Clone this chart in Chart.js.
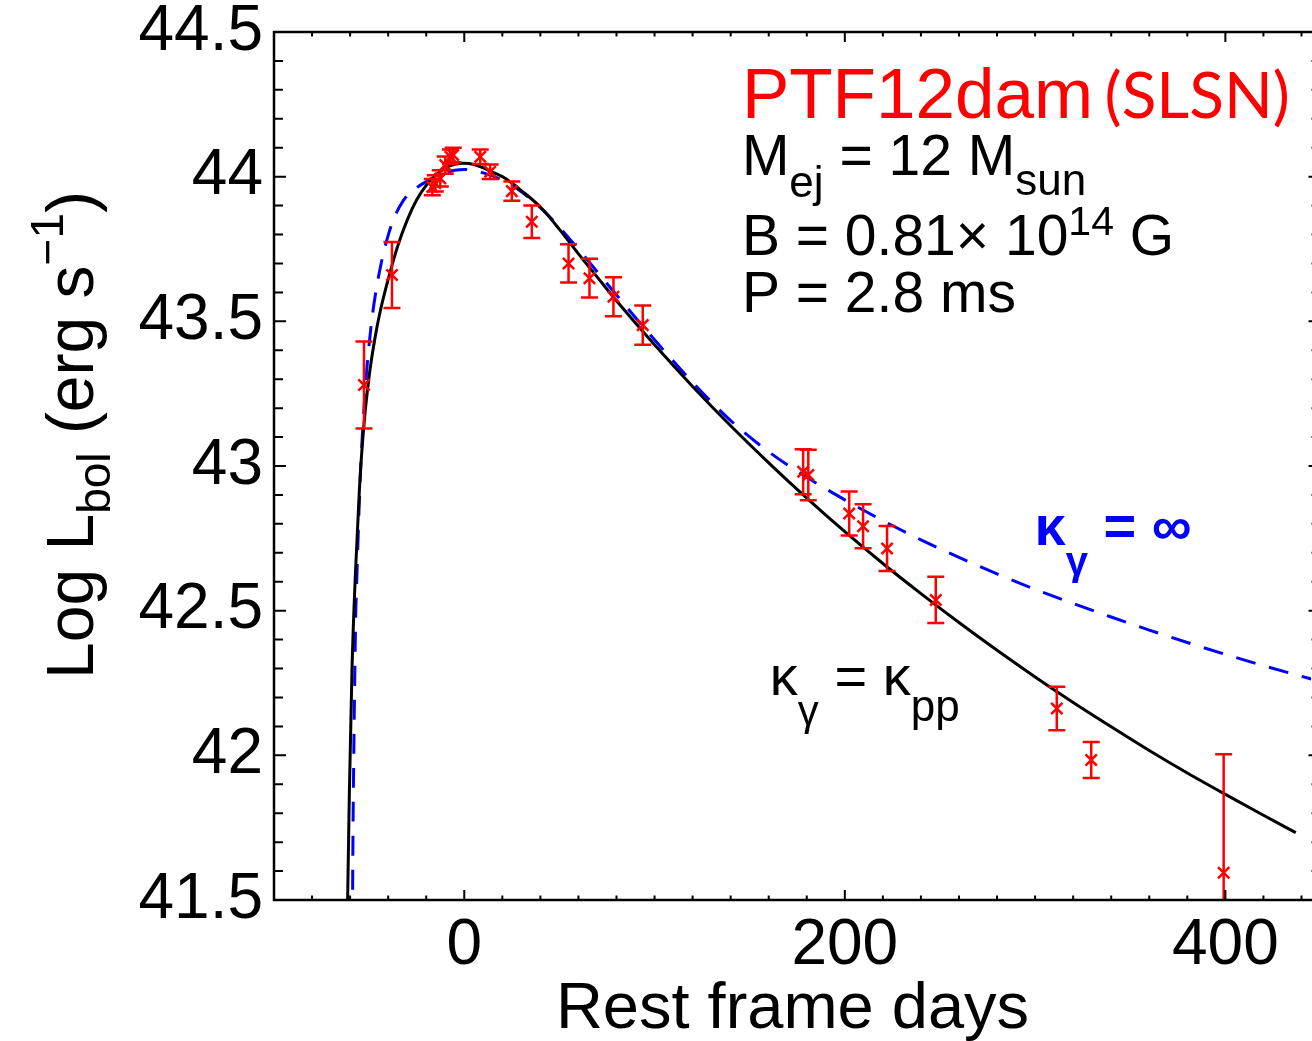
<!DOCTYPE html>
<html>
<head>
<meta charset="utf-8">
<script src="https://cdn.jsdelivr.net/npm/chart.js@4.4.1/dist/chart.umd.min.js"></script>
<style>
html, body { margin: 0; padding: 0; background: #fff; }
canvas { display: block; }
</style>
</head>
<body>
<canvas id="lightcurve" width="1312" height="1041"></canvas>
<script>
// PTF12dam bolometric light curve
const days = [-52.7, -38, -16.8, -15.2, -12.6, -10, -7.3, -5.8, 8.4, 13.6, 25, 35.5, 54.8, 65.8, 78.4, 93.8,
    178.1, 180.8, 202.3, 209.6, 222.2, 247.8, 311.4, 329.5, 399.1];
const log_lbol = [43.28, 43.66, 43.964, 43.977, 43.994, 44.04, 44.069, 44.075, 44.069, 44.017, 43.95, 43.844, 43.70, 43.649, 43.585, 43.487,
    42.98, 42.969, 42.836, 42.792, 42.715, 42.537, 42.162, 41.984, 41.594];
const log_lbol_err = [0.15, 0.114, 0.028, 0.028, 0.028, 0.03, 0.025, 0.025, 0.025, 0.025, 0.033, 0.056, 0.066, 0.067, 0.067, 0.068,
    0.078, 0.087, 0.076, 0.076, 0.078, 0.08, 0.075, 0.062, 0.41];

// magnetar model, kappa_gamma = kappa_pp (black solid)
const model_days = [-61.8, -61.3, -60.4, -59.0, -57.2, -55.1, -52.9, -50, -47, -44, -40, -35, -30, -25, -20, -15, -10, -5, 0,
    5, 10, 15, 20, 25, 30, 40, 50, 60, 70, 80, 100, 120, 140, 160, 180, 200, 220, 240, 260, 280, 300, 320, 340, 360, 380, 400, 420, 437];
const model_lbol = [41.3, 41.5, 41.87, 42.30, 42.63, 42.92, 43.13, 43.31, 43.44, 43.54, 43.645, 43.76, 43.85, 43.92, 43.97, 44.005, 44.03, 44.043, 44.046,
    44.042, 44.03, 44.015, 44.0, 43.978, 43.952, 43.895, 43.818, 43.733, 43.652, 43.571, 43.419, 43.275, 43.139, 43.011, 42.889, 42.773, 42.663,
    42.559, 42.459, 42.363, 42.271, 42.183, 42.099, 42.017, 41.939, 41.865, 41.793, 41.733];

// full trapping, kappa_gamma = infinity (blue dashed)
const trap_days = [-58.8, -58.7, -58.1, -57.5, -57.0, -56.5, -55.5, -54.5, -53.1, -51.7, -50.3, -48.6, -46.3, -43.3, -40.7, -37.3, -32, -28.3, -25, -22,
    -17.8, -13, -9, -5, 0, 10, 20, 30, 40, 50, 60, 80, 100, 120, 140, 160, 180, 200, 220, 240, 260, 280, 300, 320, 340, 360, 380, 400, 420, 450];
const trap_lbol = [41.3, 41.5, 41.984, 42.295, 42.502, 42.606, 42.813, 42.986, 43.159, 43.297, 43.401, 43.505, 43.609, 43.712, 43.781, 43.85, 43.918, 43.945, 43.962, 43.975,
    43.99, 44.004, 44.015, 44.022, 44.025, 44.013, 43.988, 43.948, 43.893, 43.825, 43.749, 43.591, 43.436, 43.289, 43.157, 43.049, 42.961, 42.883, 42.811,
    42.745, 42.684, 42.627, 42.574, 42.525, 42.478, 42.433, 42.39, 42.349, 42.31, 42.255];

const x_tick_values = [0, 200, 400];
const x_box_end = 450;   // the plot box ends at 450 days, just outside the picture

const FONT = "'Liberation Sans', Arial, Helvetica, sans-serif";

function rich_text(ctx, x, y, parts, color, align) {
    // parts: [text, size, dy, weight]
    let w = 0;
    parts.forEach(p => {
        ctx.font = (p[3] || 'normal') + ' ' + p[1] + 'px ' + FONT;
        w += ctx.measureText(p[0]).width;
    });
    let cx = align === 'center' ? x - w / 2 : x;
    ctx.fillStyle = color;
    ctx.textAlign = 'left';
    ctx.textBaseline = 'alphabetic';
    parts.forEach(p => {
        ctx.font = (p[3] || 'normal') + ' ' + p[1] + 'px ' + FONT;
        ctx.fillText(p[0], cx, y + p[2]);
        cx += ctx.measureText(p[0]).width;
    });
}

// let the plot area run to the right edge of the canvas
const stretch_area = {
    id: 'stretch_area',
    afterLayout(chart) {
        const xs = chart.scales.x, a = chart.chartArea;
        const right = chart.width - 1;
        a.right = right;
        a.width = right - a.left;
        xs.right = right;
        xs.width = right - xs.left;
        xs.configure();
    }
};

const error_bars = {
    id: 'error_bars',
    afterDatasetsDraw(chart) {
        const ctx = chart.ctx, xs = chart.scales.x, ys = chart.scales.y, a = chart.chartArea;
        ctx.save();
        ctx.beginPath();
        ctx.rect(a.left, a.top, a.right - a.left, a.bottom - a.top);
        ctx.clip();
        ctx.strokeStyle = '#ff0000';
        ctx.lineWidth = 2.5;
        days.forEach((d, i) => {
            const px = xs.getPixelForValue(d);
            const top = ys.getPixelForValue(log_lbol[i] + log_lbol_err[i]);
            const bot = ys.getPixelForValue(log_lbol[i] - log_lbol_err[i]);
            ctx.beginPath();
            ctx.moveTo(px, top); ctx.lineTo(px, bot);
            ctx.moveTo(px - 8.5, top); ctx.lineTo(px + 8.5, top);
            ctx.moveTo(px - 8.5, bot); ctx.lineTo(px + 8.5, bot);
            ctx.stroke();
        });
        ctx.restore();
    }
};

// box around the plot with inward ticks, like IDL
const frame_ticks = {
    id: 'frame_ticks',
    afterDraw(chart) {
        const ctx = chart.ctx, xs = chart.scales.x, ys = chart.scales.y, a = chart.chartArea;
        const right = xs.getPixelForValue(x_box_end);
        ctx.save();
        ctx.strokeStyle = '#000';
        ctx.lineWidth = 2.5;
        ctx.strokeRect(a.left, a.top, right - a.left, a.bottom - a.top);
        ctx.lineWidth = 2;
        ctx.beginPath();
        for (let v = -80; v < x_box_end; v += 20) {
            const px = xs.getPixelForValue(v);
            const len = v % 200 === 0 ? 10 : 4.5;
            ctx.moveTo(px, a.bottom); ctx.lineTo(px, a.bottom - len);
            ctx.moveTo(px, a.top); ctx.lineTo(px, a.top + len);
        }
        for (let k = 416; k <= 444; k++) {
            const py = ys.getPixelForValue(k / 10);
            const len = k % 5 === 0 ? 12 : 9;
            ctx.moveTo(a.left, py); ctx.lineTo(a.left + len, py);
            ctx.moveTo(right, py); ctx.lineTo(right - len, py);
        }
        ctx.stroke();
        ctx.restore();
    }
};

const labels = {
    id: 'labels',
    afterDraw(chart) {
        const ctx = chart.ctx, xs = chart.scales.x, ys = chart.scales.y;
        ctx.save();

        // y axis title
        ctx.save();
        ctx.translate(93, 435);
        ctx.rotate(-Math.PI / 2);
        rich_text(ctx, 0, 0, [['Log L', 66, 0], ['bol', 46, 17], [' (erg s', 66, 0], ['\u22121', 46, -30], [')', 66, 0]], '#000', 'center');
        ctx.restore();

        const X = v => xs.getPixelForValue(v);
        const Y = v => ys.getPixelForValue(v);

        ctx.font = '71px ' + FONT;
        ctx.fillStyle = '#ff0000';
        ctx.textBaseline = 'alphabetic';
        ctx.fillText('PTF12dam', X(145.9), Y(44.203));
        ctx.font = "64px Lato, 'Open Sans', sans-serif";
        ctx.fillText('(SLSN)', X(336.5), Y(44.203));

        rich_text(ctx, X(145.9), Y(44.006), [['M', 57, 0], ['ej', 44, 22], [' = 12 M', 57, 0], ['sun', 44, 20]], '#000');
        rich_text(ctx, X(145.9), Y(43.729), [['B = 0.81\u00d7 10', 57, 0], ['14', 41, -20], [' G', 57, 0]], '#000');
        rich_text(ctx, X(145.9), Y(43.532), [['P = 2.8 ms', 57, 0]], '#000');

        rich_text(ctx, X(299.7), Y(42.727), [['\u03ba', 56, 0, 'bold'], ['\u03b3', 40, 30, 'bold'], [' = \u221e', 56, 0, 'bold']], '#0000ff');
        rich_text(ctx, X(160.6), Y(42.208), [['\u03ba', 56, 0], ['\u03b3', 42, 30], [' = \u03ba', 56, 0], ['pp', 44, 26]], '#000');
        ctx.restore();
    }
};

const ctx_lc = document.getElementById('lightcurve').getContext('2d');
const lightcurve = new Chart(ctx_lc,
    {
        type: 'scatter',
        data: {
            datasets: [
                {
                    label: 'PTF12dam',
                    data: days.map((d, i) => ({ x: d, y: log_lbol[i] })),
                    pointStyle: 'crossRot',
                    pointRadius: 8,
                    borderColor: '#ff0000',
                    borderWidth: 2.5,
                    showLine: false
                },
                {
                    label: 'kappa_pp',
                    data: model_days.map((d, i) => ({ x: d, y: model_lbol[i] })),
                    showLine: true,
                    borderColor: '#000',
                    borderWidth: 3,
                    pointRadius: 0,
                    cubicInterpolationMode: 'monotone'
                },
                {
                    label: 'kappa_inf',
                    data: trap_days.map((d, i) => ({ x: d, y: trap_lbol[i] })),
                    showLine: true,
                    borderColor: '#0000ff',
                    borderWidth: 3,
                    borderDash: [20, 14],
                    pointRadius: 0,
                    cubicInterpolationMode: 'monotone'
                }
            ]
        },
        options: {
            responsive: false,
            animation: false,
            devicePixelRatio: 1,
            layout: { padding: { top: 32, right: 1, left: 0, bottom: 0 } },
            plugins: { legend: { display: false }, tooltip: { enabled: false } },
            scales: {
                x: {
                    type: 'linear',
                    min: -100,
                    max: 445,   // visible part; the box itself runs to 450
                    afterFit: s => { s.height = 141; s.paddingLeft = 0; s.paddingRight = 0; },
                    afterBuildTicks: s => { s.ticks = x_tick_values.map(v => ({ value: v })); },
                    grid: { display: false, drawTicks: false },
                    border: { display: false },
                    ticks: { color: '#000', font: { family: FONT, size: 64 }, padding: 8, maxRotation: 0, autoSkip: false },
                    title: { display: true, text: 'Rest frame days', color: '#000', font: { family: FONT, size: 65 }, padding: { top: 0, bottom: -8 } }
                },
                y: {
                    type: 'linear',
                    min: 41.5,
                    max: 44.5,
                    afterFit: s => { s.width = 274; s.paddingTop = 0; s.paddingBottom = 0; },
                    grid: { display: false, drawTicks: false },
                    border: { display: false },
                    ticks: { stepSize: 0.5, color: '#000', font: { family: FONT, size: 64 }, padding: 11, callback: v => String(v) }
                }
            }
        },
        plugins: [stretch_area, error_bars, frame_ticks, labels]
    });
</script>
</body>
</html>
